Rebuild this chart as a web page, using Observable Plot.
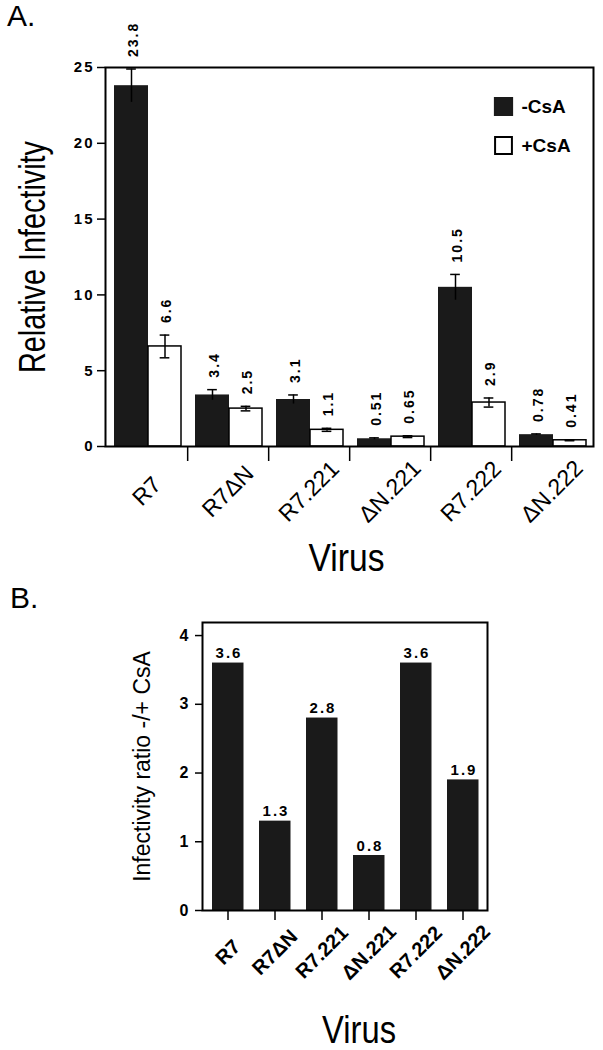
<!DOCTYPE html>
<html><head><meta charset="utf-8">
<script src="https://cdn.jsdelivr.net/npm/d3@7"></script>
<script src="https://cdn.jsdelivr.net/npm/@observablehq/plot@0.6"></script>
<style>
body{margin:0;background:#fff;}
#fig{position:relative;width:603px;height:1050px;font-family:"Liberation Sans",Arial,sans-serif;overflow:hidden;}
.panel{position:absolute;left:0;}
.tag{position:absolute;font-size:30px;line-height:1;font-family:"Liberation Sans",Arial,sans-serif;}
</style></head><body>
<div id="fig">
<div class="tag" style="left:7px;top:1px">A.</div>
<div class="tag" style="left:10px;top:583px">B.</div>
</div>
<script>
// ---- data ----
const viruses = ["R7", "R7ΔN", "R7.221", "ΔN.221", "R7.222", "ΔN.222"];
const conditions = ["-CsA", "+CsA"];
const minusCsA = [23.8, 3.4, 3.1, 0.51, 10.5, 0.78];
const minusErr = [1.1, 0.35, 0.3, 0.06, 0.85, 0.05];
const minusLabels = ["23.8", "3.4", "3.1", "0.51", "10.5", "0.78"];
const plusCsA = [6.6, 2.5, 1.1, 0.65, 2.9, 0.41];
const plusErr = [0.75, 0.15, 0.1, 0.06, 0.3, 0.03];
const plusLabels = ["6.6", "2.5", "1.1", "0.65", "2.9", "0.41"];
const ratio = [3.6, 1.3, 2.8, 0.8, 3.6, 1.9];
const ratioLabels = ["3.6", "1.3", "2.8", "0.8", "3.6", "1.9"];
const yTicksA = [0, 5, 10, 15, 20, 25];
const yTicksB = [0, 1, 2, 3, 4];

const minusRows = viruses.map((virus, i) => ({virus, v: minusCsA[i], e: minusErr[i], label: minusLabels[i]}));
const plusRows = viruses.map((virus, i) => ({virus, v: plusCsA[i], e: plusErr[i], label: plusLabels[i]}));
const ratioRows = viruses.map((virus, i) => ({virus, v: ratio[i], label: ratioLabels[i]}));

const dark = "#1a1a1a";
const font = "Liberation Sans, Arial, sans-serif";

// panel A geometry
const A = {left: 105, right: 10, top: 67, height: 580, bottom: 134};
const bwA = (603 - A.left - A.right) / viruses.length;
const dIn = [8, 39], wIn = [42, 6];
const dCen = (dIn[0] + (bwA - dIn[1])) / 2 - bwA / 2;
const wCen = (wIn[0] + (bwA - wIn[1])) / 2 - bwA / 2;
const cap = 5;

const plotA = Plot.plot({
  width: 603, height: A.height,
  marginLeft: A.left, marginRight: A.right, marginTop: A.top, marginBottom: A.bottom,
  x: {domain: viruses, padding: 0, axis: null},
  y: {domain: [0, 25], axis: null},
  style: {fontFamily: font, color: "black", background: "transparent", overflow: "visible"},
  marks: [
    Plot.barY(minusRows, {x: "virus", y: "v", fill: dark, insetLeft: dIn[0], insetRight: dIn[1]}),
    Plot.barY(plusRows, {x: "virus", y: "v", fill: "white", stroke: "black", strokeWidth: 1.5, insetLeft: wIn[0], insetRight: wIn[1]}),
    Plot.ruleX(minusRows, {x: "virus", y1: d => d.v - d.e, y2: d => d.v + d.e, dx: dCen, strokeWidth: 1.5}),
    Plot.tickY(minusRows, {x: "virus", y: d => d.v + d.e, insetLeft: bwA / 2 + dCen - cap, insetRight: bwA / 2 - dCen - cap, strokeWidth: 1.5}),
    Plot.ruleX(plusRows, {x: "virus", y1: d => d.v - d.e, y2: d => d.v + d.e, dx: wCen, strokeWidth: 1.5}),
    Plot.tickY(plusRows, {x: "virus", y: d => d.v + d.e, insetLeft: bwA / 2 + wCen - cap, insetRight: bwA / 2 - wCen - cap, strokeWidth: 1.5}),
    Plot.tickY(plusRows, {x: "virus", y: d => d.v - d.e, insetLeft: bwA / 2 + wCen - cap, insetRight: bwA / 2 - wCen - cap, strokeWidth: 1.5}),
    Plot.text(minusRows, {x: "virus", y: d => d.v + d.e, text: "label", rotate: -90, textAnchor: "start", dx: dCen + 2, dy: -12, fontSize: 14, fontWeight: "bold"}),
    Plot.text(plusRows, {x: "virus", y: d => d.v + d.e, text: "label", rotate: -90, textAnchor: "start", dx: wCen + 2, dy: -12, fontSize: 14, fontWeight: "bold"}),
    Plot.frame({stroke: "black", strokeWidth: 2}),
    Plot.axisY(yTicksA, {tickSize: 8, tickPadding: 3, fontSize: 15, fontWeight: "bold", strokeWidth: 1.5, tickFormat: d => String(d), label: null}),
    Plot.axisX(viruses.slice(0, -1), {tickSize: 15, tickFormat: () => "", dx: bwA / 2, strokeWidth: 1.5, label: null}),
    Plot.text(viruses, {x: d => d, frameAnchor: "bottom", textAnchor: "middle", lineAnchor: "middle", rotate: -45, dy: 45, fontSize: 23}),
    Plot.text(["Virus"], {frameAnchor: "bottom", textAnchor: "middle", lineAnchor: "bottom", dy: 124, dx: -3, fontSize: 38}),
    Plot.text(["Relative Infectivity"], {frameAnchor: "left", textAnchor: "middle", lineAnchor: "middle", rotate: -90, dx: -72, fontSize: 36}),
    Plot.dot([conditions[0]], {frameAnchor: "top-right", dx: -90, dy: 39, symbol: "square", r: 10, fill: dark, stroke: dark}),
    Plot.dot([conditions[1]], {frameAnchor: "top-right", dx: -90, dy: 78, symbol: "square", r: 9.5, fill: "white", stroke: "black", strokeWidth: 2}),
    Plot.text([conditions[0]], {frameAnchor: "top-right", dx: -72, dy: 39, textAnchor: "start", lineAnchor: "middle", fontSize: 19, fontWeight: "bold"}),
    Plot.text([conditions[1]], {frameAnchor: "top-right", dx: -72, dy: 78, textAnchor: "start", lineAnchor: "middle", fontSize: 19, fontWeight: "bold"})
  ]
});

// panel B geometry
const B = {left: 202, right: 116, top: 42, height: 470, bottom: 140};
const plotB = Plot.plot({
  width: 603, height: B.height,
  marginLeft: B.left, marginRight: B.right, marginTop: B.top, marginBottom: B.bottom,
  x: {domain: viruses, padding: 0, axis: null},
  y: {domain: [0, 4.19], axis: null},
  style: {fontFamily: font, color: "black", background: "transparent", overflow: "visible"},
  marks: [
    Plot.barY(ratioRows, {x: "virus", y: "v", fill: dark, insetLeft: 8, insetRight: 7.5}),
    Plot.text(ratioRows, {x: "virus", y: "v", text: "label", lineAnchor: "bottom", dy: -5, dx: 1, fontSize: 15, fontWeight: "bold"}),
    Plot.frame({stroke: "black", strokeWidth: 2}),
    Plot.axisY(yTicksB, {tickSize: 7, tickPadding: 5, fontSize: 16, fontWeight: "bold", strokeWidth: 1.5, tickFormat: d => String(d), label: null}),
    Plot.axisX({tickSize: 10, tickFormat: () => "", strokeWidth: 1.5, label: null}),
    Plot.text(viruses, {x: d => d, frameAnchor: "bottom", textAnchor: "middle", lineAnchor: "middle", rotate: -45, dy: 42, fontSize: 20, fontWeight: "bold"}),
    Plot.text(["Virus"], {frameAnchor: "bottom", textAnchor: "middle", lineAnchor: "bottom", dy: 132, dx: 14, fontSize: 38}),
    Plot.text(["Infectivity ratio -/+ CsA"], {frameAnchor: "left", textAnchor: "middle", lineAnchor: "middle", rotate: -90, dx: -60, fontSize: 23})
  ]
});

// condense the big hand-lettered labels to the reference's narrow face; space the numerals
function byText(svg, s) { return d3.select(svg).selectAll("text").filter(function () { return this.textContent === s; }); }
byText(plotA, "Virus").attr("textLength", 76).attr("lengthAdjust", "spacingAndGlyphs");
byText(plotB, "Virus").attr("textLength", 74).attr("lengthAdjust", "spacingAndGlyphs");
byText(plotA, "Relative Infectivity").attr("textLength", 232).attr("lengthAdjust", "spacingAndGlyphs");
[plotA, plotB].forEach(svg => d3.select(svg).selectAll("text")
  .filter(function () { return /^[0-9.]+$/.test(this.textContent); })
  .style("letter-spacing", "2px"));

const fig = document.getElementById("fig");
plotA.classList.add("panel"); plotA.style.top = "0px";
plotB.classList.add("panel"); plotB.style.top = "580px";
fig.appendChild(plotA);
fig.appendChild(plotB);
</script>
</body></html>
